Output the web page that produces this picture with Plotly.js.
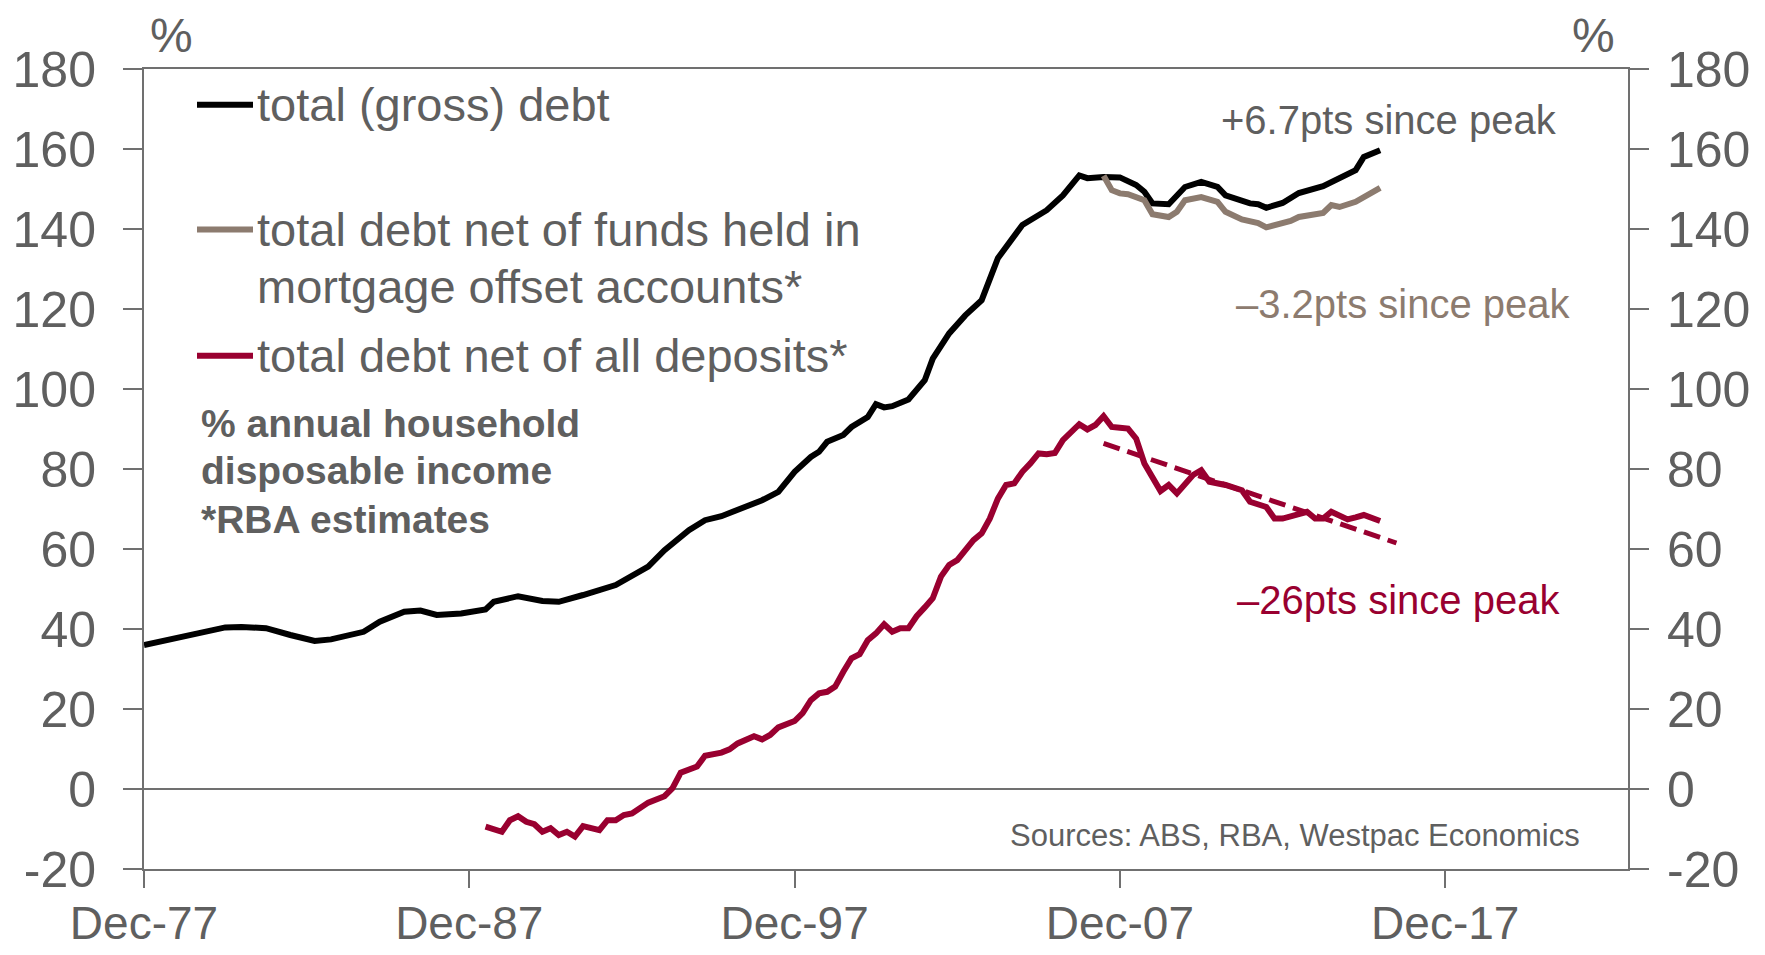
<!DOCTYPE html>
<html>
<head>
<meta charset="utf-8">
<script src="https://cdn.plot.ly/plotly-3.0.1.min.js"></script>
<style>html,body{margin:0;padding:0;background:#fff;}#chart{width:1765px;height:955px;}</style>
</head>
<body>
<div id="chart"></div>
<script>
// ---- data ----
const grossDates = ['1977-12','1978-09','1979-03','1979-09','1980-06','1980-12','1981-09','1982-06','1983-03','1983-09','1984-09','1985-03','1985-12','1986-06','1986-12','1987-09','1988-06','1988-09','1989-06','1990-03','1990-09','1991-06','1992-06','1993-06','1993-12','1994-09','1995-03','1995-09','1996-06','1996-12','1997-06','1997-12','1998-06','1998-09','1998-12','1999-06','1999-09','2000-03','2000-06','2000-09','2000-12','2001-06','2001-12','2002-03','2002-09','2003-03','2003-09','2003-12','2004-03','2004-12','2005-09','2006-03','2006-09','2006-12','2007-06','2007-12','2008-06','2008-09','2008-12','2009-06','2009-12','2010-06','2010-12','2011-03','2011-12','2012-03','2012-06','2012-12','2013-03','2013-06','2014-03','2014-09','2015-03','2015-06','2015-12'];
const grossDebt = [36.0,37.4,38.3,39.3,40.4,40.5,40.2,38.5,37.0,37.4,39.3,41.8,44.3,44.6,43.5,43.9,44.9,46.8,48.2,47.0,46.8,48.5,51.0,55.6,59.7,64.7,67.2,68.2,70.5,72.2,74.3,79.3,83.0,84.3,86.8,88.5,90.5,93.0,96.2,95.4,95.7,97.4,102.2,107.6,113.9,118.4,122.2,127.0,132.7,141.0,144.7,148.4,153.4,152.7,153.0,152.9,151.0,149.3,146.4,146.2,150.5,151.8,150.5,148.4,146.4,146.2,145.3,146.5,147.6,149.0,150.7,152.9,154.7,158.0,159.7];

const offsetDates = ['2007-06','2007-09','2007-12','2008-03','2008-09','2008-12','2009-06','2009-09','2009-12','2010-06','2010-12','2011-03','2011-09','2012-03','2012-06','2012-12','2013-03','2013-06','2014-03','2014-06','2014-09','2015-03','2015-09','2015-12'];
const netOffset = [153.3,149.7,148.9,148.7,147.2,143.7,143.0,144.3,147.2,148.0,146.8,144.3,142.4,141.5,140.4,141.4,142.0,143.0,144.0,146.0,145.5,146.8,149.0,150.3];

const depositDates = ['1988-06','1988-12','1989-03','1989-06','1989-09','1989-12','1990-03','1990-06','1990-09','1990-12','1991-03','1991-06','1991-12','1992-03','1992-06','1992-09','1992-12','1993-06','1993-12','1994-03','1994-06','1994-12','1995-03','1995-09','1995-12','1996-03','1996-09','1996-12','1997-03','1997-06','1997-12','1998-03','1998-06','1998-09','1998-12','1999-03','1999-06','1999-09','1999-12','2000-03','2000-06','2000-09','2000-12','2001-03','2001-06','2001-09','2001-12','2002-03','2002-06','2002-09','2002-12','2003-03','2003-06','2003-09','2003-12','2004-03','2004-06','2004-09','2004-12','2005-03','2005-06','2005-09','2005-12','2006-03','2006-06','2006-09','2006-12','2007-03','2007-06','2007-09','2007-12','2008-03','2008-06','2008-09','2009-03','2009-06','2009-09','2010-03','2010-06','2010-09','2011-03','2011-09','2011-12','2012-06','2012-09','2012-12','2013-06','2013-09','2013-12','2014-03','2014-06','2014-12','2015-03','2015-06','2015-12'];
const netDeposits = [-9.4,-10.7,-7.8,-6.8,-8.2,-8.8,-10.7,-9.8,-11.5,-10.7,-11.9,-9.3,-10.3,-7.8,-7.8,-6.5,-6.1,-3.4,-1.8,0.2,4.1,5.6,8.3,9.1,9.9,11.4,13.2,12.4,13.5,15.4,17.0,19.0,22.2,23.9,24.3,25.6,29.3,32.7,33.7,37.2,38.9,41.2,39.3,40.2,40.2,43.2,45.4,47.7,53.1,56.0,57.2,59.7,62.2,63.9,67.6,72.6,76.0,76.4,79.3,81.4,83.9,83.7,84.0,87.2,89.3,91.2,89.9,91.0,93.2,90.5,90.3,90.1,87.6,81.4,74.5,76.0,73.9,78.5,79.7,76.8,76.0,74.7,71.8,70.5,67.6,67.6,68.7,69.3,67.6,67.6,69.3,67.4,67.9,68.5,67.0];

const trendDates = ['2007-06','2016-06'];
const trendValues = [86.4, 61.5];

const yTickValues = [-20,0,20,40,60,80,100,120,140,160,180];
const yTickLabels = ['-20','0','20','40','60','80','100','120','140','160','180'];

const seriesNames = ['total (gross) debt','total debt net of funds held in','mortgage offset accounts*','total debt net of all deposits*'];
const noteLines = ['% annual household','disposable income','*RBA estimates'];
const peakNotes = ['+6.7pts since peak','\u20133.2pts since peak','\u201326pts since peak'];
const sourceText = 'Sources: ABS, RBA, Westpac Economics';

// ---- styles ----
const FONT = '"Liberation Sans", Arial, sans-serif';
const TXT = '#5f5f5f';
const AX = '#707070';
const BLACK = '#000000';
const TAUPE = '#8c7b6f';
const RED = '#990030';

const traces = [
  {x: grossDates, y: grossDebt, type: 'scatter', mode: 'lines', name: seriesNames[0],
   line: {color: BLACK, width: 6}},
  {x: offsetDates, y: netOffset, type: 'scatter', mode: 'lines', name: seriesNames[1],
   line: {color: TAUPE, width: 6}},
  {x: depositDates, y: netDeposits, type: 'scatter', mode: 'lines', name: seriesNames[3],
   line: {color: RED, width: 6}},
  {x: trendDates, y: trendValues, type: 'scatter', mode: 'lines', yaxis: 'y2', name: 'trend',
   line: {color: RED, width: 5, dash: '17px,8px'}}
];

const axisCommon = {
  showgrid: false, showline: true, linecolor: AX, linewidth: 2,
  ticks: 'outside', tickcolor: AX, tickwidth: 2,
  tickfont: {family: FONT, size: 50, color: TXT}, automargin: false
};

const L = 144, R = 1628, T = 69, B = 869;
const px = v => (v - L) / (R - L);
const py = v => (B - v) / (B - T);

function legendLine(yPix, color) {
  return {type: 'line', xref: 'paper', yref: 'paper', x0: px(197), x1: px(253), y0: py(yPix), y1: py(yPix),
          line: {color: color, width: 6}};
}
function txt(text, x, y, opts) {
  return Object.assign({text: text, xref: 'paper', yref: 'paper', x: x, y: y, showarrow: false,
    xanchor: 'left', yanchor: 'middle', align: 'left',
    font: {family: FONT, size: 47, color: TXT}}, opts || {});
}

const layout = {
  width: 1765, height: 955,
  margin: {l: L, r: 1765 - R, t: T, b: 955 - B, pad: 0},
  paper_bgcolor: '#ffffff', plot_bgcolor: '#ffffff',
  showlegend: false,
  font: {family: FONT, color: TXT},
  xaxis: Object.assign({}, axisCommon, {
    type: 'date', range: ['1977-12-01', '2023-07-15'],
    tick0: '1977-12-01', dtick: 'M120', tickformat: '%b-%y',
    ticklen: 17, mirror: true, zeroline: false, ticklabelstandoff: -4,
    tickfont: {family: FONT, size: 46, color: TXT}
  }),
  yaxis: Object.assign({}, axisCommon, {
    range: [-20, 180], tickmode: 'array', tickvals: yTickValues, ticktext: yTickLabels,
    ticklen: 19, zeroline: true, zerolinecolor: AX, zerolinewidth: 2, ticklabelstandoff: 17
  }),
  yaxis2: Object.assign({}, axisCommon, {
    range: [-20, 180], tickmode: 'array', tickvals: yTickValues, ticktext: yTickLabels,
    overlaying: 'y', side: 'right', ticklen: 19, zeroline: false, ticklabelstandoff: 8
  }),
  shapes: [
    legendLine(104.7, BLACK),
    legendLine(229.6, TAUPE),
    legendLine(355.7, RED)
  ],
  annotations: [
    txt('%', px(171), py(36), {xanchor: 'center', font: {family: FONT, size: 48, color: TXT}}),
    txt('%', px(1593), py(36), {xanchor: 'center', font: {family: FONT, size: 48, color: TXT}}),
    txt(seriesNames[0], px(255), py(104.7)),
    txt(seriesNames[1], px(255), py(229.6)),
    txt(seriesNames[2], px(255), py(286)),
    txt(seriesNames[3], px(255), py(355.7)),
    txt('<b>' + noteLines[0] + '</b>', px(199), py(423), {font: {family: FONT, size: 39, color: TXT}}),
    txt('<b>' + noteLines[1] + '</b>', px(199), py(470.5), {font: {family: FONT, size: 39, color: TXT}}),
    txt('<b>' + noteLines[2] + '</b>', px(199), py(519), {font: {family: FONT, size: 39, color: TXT}}),
    txt(peakNotes[0], px(1559), py(120), {xanchor: 'right', font: {family: FONT, size: 40, color: TXT}}),
    txt(peakNotes[1], px(1573), py(304), {xanchor: 'right', font: {family: FONT, size: 40, color: TAUPE}}),
    txt(peakNotes[2], px(1562), py(600), {xanchor: 'right', font: {family: FONT, size: 40, color: RED}}),
    txt(sourceText, px(1582), py(835), {xanchor: 'right', font: {family: FONT, size: 31, color: TXT}})
  ]
};

Plotly.newPlot('chart', traces, layout, {staticPlot: true, displayModeBar: false});
</script>
</body>
</html>
